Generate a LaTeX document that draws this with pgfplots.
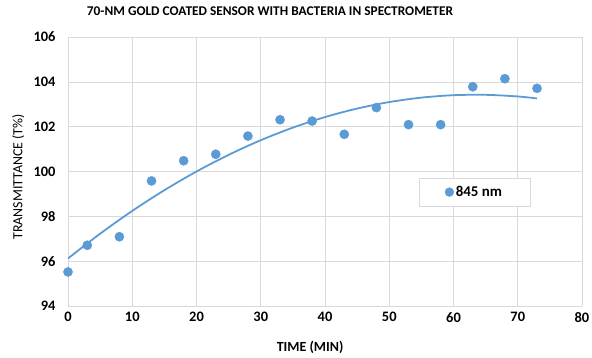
\documentclass[border=0pt]{standalone}
\usepackage{pgfplots}
\pgfplotsset{compat=1.18}
\usepackage{fontspec}
\setmainfont{Carlito}
\definecolor{excelblue}{HTML}{5B9BD5}
\definecolor{gridgray}{HTML}{D9D9D9}
\begin{document}
\begin{tikzpicture}
\useasboundingbox (-68bp,-52bp) rectangle (524bp,306bp);
\begin{axis}[
  at={(0,0)}, anchor=south west,
  scale only axis,
  width=514bp, height=269bp,
  xmin=0, xmax=80, ymin=94, ymax=106,
  xtick={0,10,...,80}, ytick={94,96,...,106},
  grid=major,
  major grid style={draw=gridgray, line width=0.6pt},
  axis line style={draw=none},
  tick style={draw=none},
  /pgf/number format/assume math mode=true,
  xticklabel={\textbf{\pgfmathprintnumber[assume math mode=true]{\tick}}},
  yticklabel={\textbf{\pgfmathprintnumber[assume math mode=true]{\tick}}},
  ticklabel style={font=\fontsize{14.5}{16}\selectfont\bfseries},
  xticklabel style={yshift=-3bp},
  yticklabel style={xshift=-9bp},
  xlabel={TIME (MIN)},
  ylabel={TRANSMITTANCE (T\%)},
  every axis x label/.style={at={(axis description cs:0.471,0)}, anchor=center, yshift=-41bp, font=\fontsize{14}{15}\selectfont\bfseries},
  every axis y label/.style={at={(axis description cs:-0.097,0.48)}, rotate=90, anchor=center, font=\fontsize{14}{15}\selectfont},
  title={70-NM GOLD COATED SENSOR WITH BACTERIA IN SPECTROMETER},
  title style={at={(axis description cs:0.393,1)}, anchor=center, yshift=20bp, font=\fontsize{13.4}{16}\selectfont\bfseries},
  legend style={at={(axis cs:54.6,99.71)}, anchor=north west, draw=gridgray, fill=white, inner xsep=26bp, inner ysep=6bp, font=\fontsize{15}{17}\selectfont\bfseries},
  legend image post style={mark size=4.4bp},
]
\addplot[excelblue, line width=1.8pt, smooth, forget plot] coordinates {
(0,96.12) (5,97.226) (10,98.242) (15,99.166) (20,100.000) (25,100.743)
(30,101.396) (35,101.957) (40,102.428) (45,102.808) (50,103.098)
(55,103.296) (60,103.404) (65,103.421) (70,103.348) (73,103.26)
};
\addplot[only marks, mark=*, mark size=4.6bp, mark options={draw=excelblue, fill=excelblue}] coordinates {
(0,95.52) (3,96.71) (8,97.09) (13,99.58) (18,100.48) (23,100.77)
(28,101.58) (33,102.31) (38,102.25) (43,101.66) (48,102.85)
(53,102.09) (58,102.09) (63,103.78) (68,104.14) (73,103.71)
};
\addlegendentry{845 nm}
\end{axis}
\end{tikzpicture}
\end{document}
